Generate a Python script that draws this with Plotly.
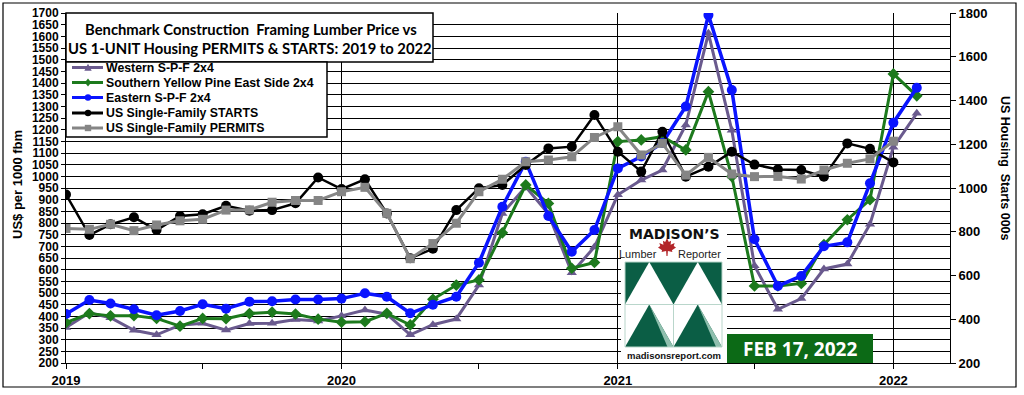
import plotly.graph_objects as go

# ---------------- data ----------------
months = ["2019-01-01", "2019-02-01", "2019-03-01", "2019-04-01", "2019-05-01", "2019-06-01",
          "2019-07-01", "2019-08-01", "2019-09-01", "2019-10-01", "2019-11-01", "2019-12-01",
          "2020-01-01", "2020-02-01", "2020-03-01", "2020-04-01", "2020-05-01", "2020-06-01",
          "2020-07-01", "2020-08-01", "2020-09-01", "2020-10-01", "2020-11-01", "2020-12-01",
          "2021-01-01", "2021-02-01", "2021-03-01", "2021-04-01", "2021-05-01", "2021-06-01",
          "2021-07-01", "2021-08-01", "2021-09-01", "2021-10-01", "2021-11-01", "2021-12-01",
          "2022-01-01", "2022-02-01"]

western_spf = [352, 415, 394, 340, 321, 362, 370, 341, 369, 370, 386, 380,
               402, 427, 409, 321, 364, 389, 534, 841, 955, 840, 587, 697,
               921, 984, 1027, 1220, 1613, 1197, 617, 430, 476, 603, 624, 795,
               1125, 1270]
syp_east = [373, 412, 402, 403, 391, 358, 391, 390, 412, 418, 410, 388,
            375, 377, 413, 363, 473, 534, 556, 758, 963, 884, 606, 631,
            1149, 1156, 1170, 1113, 1363, 999, 530, 530, 541, 707, 814, 900,
            1439, 1345]
eastern_spf = [410, 470, 455, 430, 405, 423, 452, 433, 463, 465, 472, 472,
               476, 499, 484, 413, 450, 484, 630, 870, 1063, 830, 677, 770,
               1034, 1085, 1143, 1299, 1691, 1370, 730, 530, 573, 700, 717, 970,
               1230, 1380]
sf_starts = [970, 785, 834, 866, 808, 872, 880, 919, 896, 899, 930, 1048,
             995, 1040, 884, 679, 722, 899, 999, 1014, 1105, 1181, 1189, 1334,
             1166, 1075, 1257, 1052, 1097, 1166, 1107, 1085, 1082, 1052, 1204, 1179,
             1117]
sf_permits = [815, 811, 834, 805, 831, 850, 857, 899, 900, 935, 943, 943,
              983, 1003, 884, 677, 746, 839, 983, 1040, 1120, 1128, 1143, 1231,
              1280, 1151, 1204, 1059, 1140, 1064, 1052, 1053, 1041, 1082, 1113, 1133,
              1214]

year_ticks = ["2019-01-01", "2020-01-01", "2021-01-01", "2022-01-01"]
year_labels = ["2019", "2020", "2021", "2022"]
half_year_ticks = ["2019-07-01", "2020-07-01", "2021-07-01"]

series = [
    ("Western S-P-F 2x4", western_spf, "#6a5a8e", "triangle-up", "y", 3),
    ("Southern Yellow Pine East Side 2x4", syp_east, "#1d7a1d", "diamond", "y", 3),
    ("Eastern S-P-F 2x4", eastern_spf, "#0a14ff", "circle", "y", 3.5),
    ("US Single-Family STARTS", sf_starts, "#000000", "circle", "y2", 2.5),
    ("US Single-Family PERMITS", sf_permits, "#858585", "square", "y2", 3),
]

# ---------------- layout geometry (pixels) ----------------
W, H = 1024, 395
PL, PR, PT, PB = 66, 950, 13, 363


def X(px):
    return (px - PL) / (PR - PL)


def Y(py):
    return (PB - py) / (PB - PT)


fig = go.Figure()
for name, vals, col, sym, ax, lw in series:
    fig.add_trace(go.Scatter(
        x=months[:len(vals)], y=vals, name=name, yaxis=ax, mode="lines+markers",
        line=dict(color=col, width=lw),
        marker=dict(symbol=sym, size=9 if sym != "circle" else 10, color=col),
        showlegend=False))

shapes = []
annots = []

# outer border
shapes.append(dict(type="rect", xref="paper", yref="paper", x0=X(3), x1=X(1016), y0=Y(3), y1=Y(387),
                   line=dict(color="black", width=1.2), layer="below"))

# title box
shapes.append(dict(type="rect", xref="paper", yref="paper", x0=X(66), x1=X(433), y0=Y(13), y1=Y(62),
                   fillcolor="white", line=dict(color="black", width=1.5), layer="above"))
tfont = dict(family="Lato", size=14.8, color="black", weight="bold")
annots.append(dict(xref="paper", yref="paper", x=X(251), y=Y(29), text="Benchmark Construction  Framing Lumber Price vs",
                   showarrow=False, xanchor="center", yanchor="middle", font=tfont))
annots.append(dict(xref="paper", yref="paper", x=X(250), y=Y(48), text="US 1-UNIT Housing PERMITS &amp; STARTS: 2019 to 2022",
                   showarrow=False, xanchor="center", yanchor="middle", font=tfont))

# legend box
shapes.append(dict(type="rect", xref="paper", yref="paper", x0=X(66), x1=X(327), y0=Y(62), y1=Y(137),
                   fillcolor="white", line=dict(color="black", width=1.5), layer="above"))
row_y = [67.5, 82.5, 97.5, 113, 128]
for (name, vals, col, sym, ax, lw), ry in zip(series, row_y):
    shapes.append(dict(type="line", xref="paper", yref="paper", x0=X(72), x1=X(103), y0=Y(ry), y1=Y(ry),
                       line=dict(color=col, width=3), layer="above"))
    cx, r = 88, 3.2
    if sym == "circle":
        shapes.append(dict(type="circle", xref="paper", yref="paper", x0=X(cx - r), x1=X(cx + r),
                           y0=Y(ry - r), y1=Y(ry + r), fillcolor=col, line=dict(color=col, width=0), layer="above"))
    elif sym == "square":
        shapes.append(dict(type="rect", xref="paper", yref="paper", x0=X(cx - r), x1=X(cx + r),
                           y0=Y(ry - r), y1=Y(ry + r), fillcolor=col, line=dict(color=col, width=0), layer="above"))
    elif sym == "diamond":
        p = f"M {X(cx)} {Y(ry - r - 0.8)} L {X(cx + r)} {Y(ry)} L {X(cx)} {Y(ry + r + 0.8)} L {X(cx - r)} {Y(ry)} Z"
        shapes.append(dict(type="path", xref="paper", yref="paper", path=p, fillcolor=col,
                           line=dict(color=col, width=0), layer="above"))
    else:
        p = f"M {X(cx)} {Y(ry - r - 0.5)} L {X(cx + r + 0.5)} {Y(ry + r)} L {X(cx - r - 0.5)} {Y(ry + r)} Z"
        shapes.append(dict(type="path", xref="paper", yref="paper", path=p, fillcolor=col,
                           line=dict(color=col, width=0), layer="above"))
    annots.append(dict(xref="paper", yref="paper", x=X(104), y=Y(ry), text=name, showarrow=False,
                       xanchor="left", yanchor="middle",
                       font=dict(family="Liberation Sans, Arial", size=12.3, color="black", weight="bold")))

# axis titles
annots.append(dict(xref="paper", yref="paper", x=X(17), y=Y(185), text="US$ per 1000 fbm", textangle=-90,
                   showarrow=False, xanchor="center", yanchor="middle",
                   font=dict(family="Liberation Sans, Arial", size=13, color="black", weight="bold")))
annots.append(dict(xref="paper", yref="paper", x=X(1005), y=Y(168), text="US Housing  Starts 000s", textangle=90,
                   showarrow=False, xanchor="center", yanchor="middle",
                   font=dict(family="Liberation Sans, Arial", size=12.5, color="black", weight="bold")))

# ---------------- Madison's logo ----------------
green = "#0b5e45"
light = "#8fbfae"
shapes.append(dict(type="rect", xref="paper", yref="paper", x0=X(621), x1=X(727), y0=Y(224), y1=Y(362),
                   fillcolor="white", line=dict(width=0), layer="above"))
annots.append(dict(xref="paper", yref="paper", x=X(674), y=Y(234), text="MADISON’S", showarrow=False,
                   xanchor="center", yanchor="middle",
                   font=dict(family="DejaVu Sans", size=14, color="#111", weight="bold")))
annots.append(dict(xref="paper", yref="paper", x=X(659), y=Y(254), text="Lumber", showarrow=False,
                   xanchor="right", yanchor="middle",
                   font=dict(family="Liberation Sans", size=11, color="#222")))
annots.append(dict(xref="paper", yref="paper", x=X(676), y=Y(254), text="Reporter", showarrow=False,
                   xanchor="left", yanchor="middle",
                   font=dict(family="Liberation Sans", size=11, color="#222")))
leaf = [(0, -1), (0.2, -0.55), (0.45, -0.7), (0.4, -0.25), (0.85, -0.45), (0.75, -0.1), (1.0, 0.05),
        (0.55, 0.35), (0.6, 0.55), (0.1, 0.45), (0.06, 1.0), (-0.06, 1.0), (-0.1, 0.45), (-0.6, 0.55),
        (-0.55, 0.35), (-1.0, 0.05), (-0.75, -0.1), (-0.85, -0.45), (-0.4, -0.25), (-0.45, -0.7),
        (-0.2, -0.55)]
lp = "M " + " L ".join(f"{X(667 + 9 * a)} {Y(247 + 9 * b)}" for a, b in leaf) + " Z"
shapes.append(dict(type="path", xref="paper", yref="paper", path=lp, fillcolor="#b3262a",
                   line=dict(width=0), layer="above"))
# panel
gx0, gx1, gxm = 625, 722, 673.5
gy0, gy1, gym = 262, 347, 304.5
shapes.append(dict(type="rect", xref="paper", yref="paper", x0=X(gx0), x1=X(gx1), y0=Y(gy0), y1=Y(gym),
                   fillcolor=green, line=dict(width=0), layer="above"))
for a, b in ((gx0, gxm), (gxm, gx1)):
    m = (a + b) / 2
    p = f"M {X(a)} {Y(gym)} L {X(m)} {Y(gy0)} L {X(b)} {Y(gym)} Z"
    shapes.append(dict(type="path", xref="paper", yref="paper", path=p, fillcolor="white",
                       line=dict(width=0), layer="above"))
    p = f"M {X(a)} {Y(gy1)} L {X(m)} {Y(gym)} L {X(b)} {Y(gy1)} Z"
    shapes.append(dict(type="path", xref="paper", yref="paper", path=p, fillcolor=green,
                       line=dict(width=0), layer="above"))
    p = f"M {X(m)} {Y(gym)} L {X(b)} {Y(gy1)} L {X(b - 6)} {Y(gy1)} Z"
    shapes.append(dict(type="path", xref="paper", yref="paper", path=p, fillcolor=light,
                       line=dict(width=0), layer="above"))
shapes.append(dict(type="rect", xref="paper", yref="paper", x0=X(gx0), x1=X(gx1), y0=Y(gy0), y1=Y(gy1),
                   line=dict(color="#b9d6cb", width=1), layer="above"))
shapes.append(dict(type="line", xref="paper", yref="paper", x0=X(gx0), x1=X(gx1), y0=Y(gym), y1=Y(gym),
                   line=dict(color="#b9d6cb", width=1), layer="above"))
shapes.append(dict(type="line", xref="paper", yref="paper", x0=X(gxm), x1=X(gxm), y0=Y(gym), y1=Y(gy1),
                   line=dict(color="#b9d6cb", width=1), layer="above"))
annots.append(dict(xref="paper", yref="paper", x=X(674), y=Y(355.5), text="madisonsreport.com", showarrow=False,
                   xanchor="center", yanchor="middle",
                   font=dict(family="Liberation Sans", size=9.5, color="#111", weight="bold")))
# date box
shapes.append(dict(type="rect", xref="paper", yref="paper", x0=X(727), x1=X(873), y0=Y(334), y1=Y(363),
                   fillcolor="#0c6a16", line=dict(width=0), layer="above"))
annots.append(dict(xref="paper", yref="paper", x=X(800), y=Y(348.5), text="FEB 17, 2022", showarrow=False,
                   xanchor="center", yanchor="middle",
                   font=dict(family="Open Sans", size=19, color="white", weight="bold")))

fig.update_layout(
    width=W, height=H,
    margin=dict(l=PL, r=W - PR, t=PT, b=H - PB, pad=0, autoexpand=False),
    paper_bgcolor="white", plot_bgcolor="white",
    showlegend=False, hovermode=False,
    shapes=shapes, annotations=annots,
    xaxis=dict(type="date", range=["2019-01-01", "2022-03-17"], automargin=False,
               tickmode="array", tickvals=year_ticks, ticktext=year_labels,
               showgrid=True, gridcolor="black", gridwidth=1,
               ticks="outside", ticklen=5, tickcolor="black",
               minor=dict(tickmode="array", tickvals=half_year_ticks, ticks="outside", ticklen=5,
                          tickcolor="black", showgrid=False),
               showline=True, linecolor="black", linewidth=1, mirror=False,
               tickfont=dict(family="Liberation Sans, Arial", size=13, color="black", weight="bold"),
               zeroline=False),
    yaxis=dict(range=[200, 1700], tickmode="linear", tick0=200, dtick=50, automargin=False,
               showgrid=True, gridcolor="black", gridwidth=1,
               ticks="outside", ticklen=4, tickcolor="black",
               showline=True, linecolor="black", linewidth=1, zeroline=False,
               tickfont=dict(family="Liberation Sans, Arial", size=12, color="black", weight="bold")),
    yaxis2=dict(range=[200, 1800], overlaying="y", side="right", tickmode="linear", tick0=200, dtick=200,
                automargin=False,
                showgrid=False, ticks="outside", ticklen=5, tickcolor="black",
                showline=True, linecolor="black", linewidth=1, zeroline=False,
                tickfont=dict(family="Liberation Sans, Arial", size=13, color="black", weight="bold")),
)

fig.write_html("out.html", config={"displayModeBar": False},
               post_script="document.body.style.margin='0';document.body.style.overflow='hidden';")
